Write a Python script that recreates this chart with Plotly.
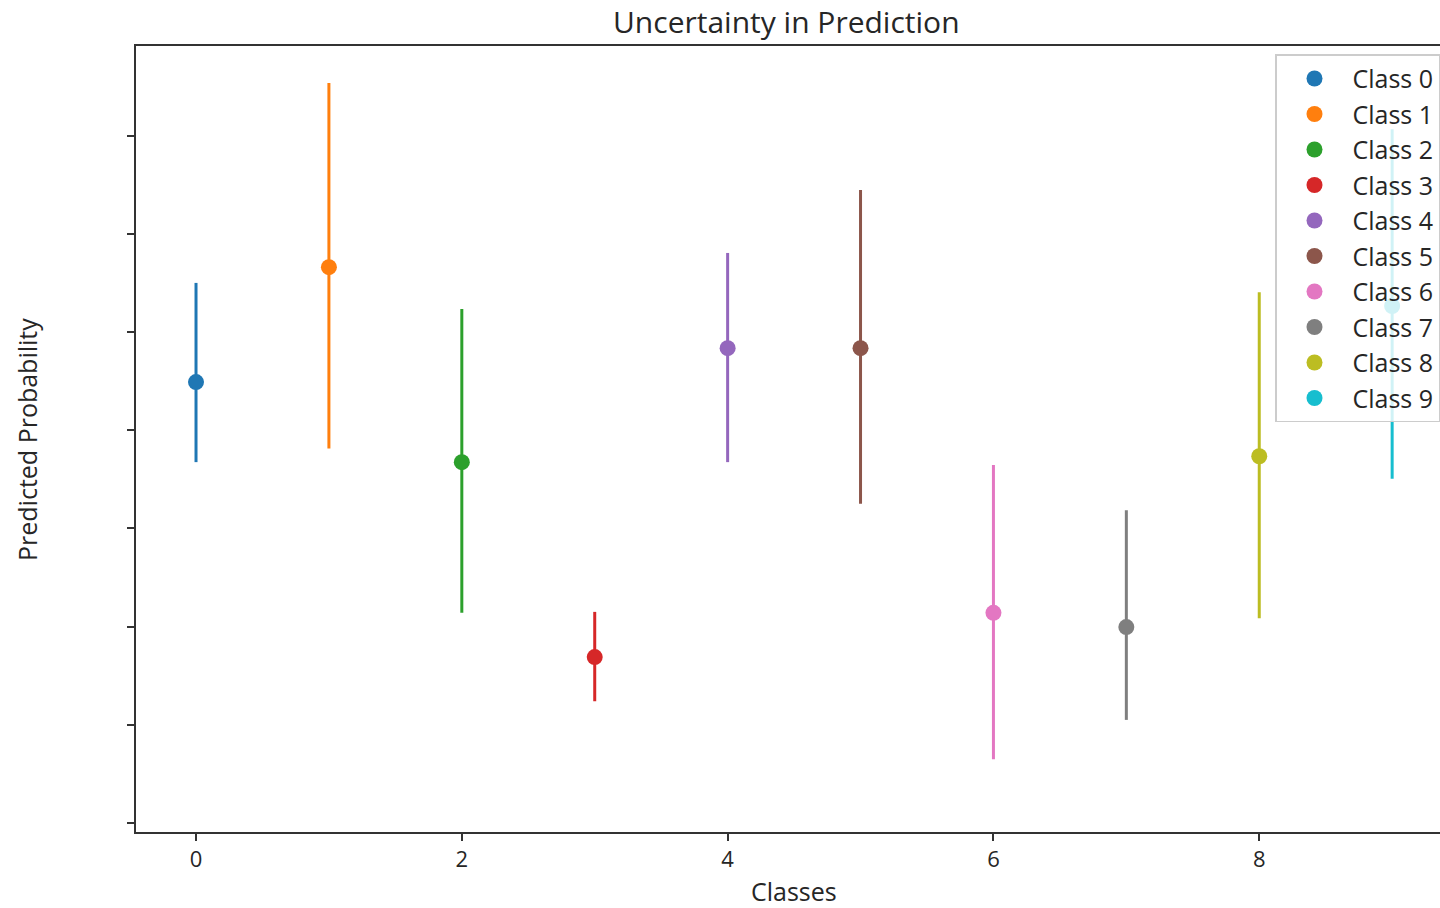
import plotly.graph_objects as go

classes = [0, 1, 2, 3, 4, 5, 6, 7, 8, 9]
labels = ["Class 0", "Class 1", "Class 2", "Class 3", "Class 4",
          "Class 5", "Class 6", "Class 7", "Class 8", "Class 9"]
mean_prob = [0.0898, 0.1132, 0.0735, 0.0338, 0.0967, 0.0967, 0.0428, 0.0399, 0.0747, 0.1053]
err_upper = [0.0202, 0.0375, 0.0312, 0.0092, 0.0194, 0.0322, 0.0301, 0.0238, 0.0334, 0.0360]
err_lower = [0.0163, 0.0369, 0.0307, 0.0090, 0.0232, 0.0317, 0.0298, 0.0189, 0.0330, 0.0352]
colors = ["#1f77b4", "#ff7f0e", "#2ca02c", "#d62728", "#9467bd",
          "#8c564b", "#e377c2", "#7f7f7f", "#bcbd22", "#17becf"]
x_ticks = [0, 2, 4, 6, 8]
y_ticks = [0.0, 0.02, 0.04, 0.06, 0.08, 0.10, 0.12, 0.14]

FONT = "Open Sans"
TXT = "#262626"

fig = go.Figure()
for i in range(len(classes)):
    fig.add_trace(go.Scatter(
        x=[classes[i]], y=[mean_prob[i]], mode="markers", name=labels[i],
        marker=dict(color=colors[i], size=16),
        error_y=dict(type="data", symmetric=False,
                     array=[err_upper[i]], arrayminus=[err_lower[i]],
                     color=colors[i], thickness=3, width=0),
    ))

fig.update_layout(
    width=1440, height=908,
    margin=dict(l=136, r=0, t=46, b=76),
    paper_bgcolor="white", plot_bgcolor="white",
    font=dict(family=FONT, color=TXT, size=22),
    showlegend=True,
    legend=dict(x=1.0, xanchor="right", y=0.9895, yanchor="top",
                bgcolor="rgba(255,255,255,0.8)", bordercolor="#cccccc", borderwidth=1.5,
                font=dict(family=FONT, size=25, color=TXT), itemwidth=66),
    annotations=[
        dict(text="Uncertainty in Prediction", xref="paper", yref="paper",
             x=0.4985, y=1.0315, xanchor="center", yanchor="middle", showarrow=False,
             font=dict(family=FONT, size=30, color=TXT)),
        dict(text="Classes", xref="paper", yref="paper",
             x=0.5046, y=-0.0745, xanchor="center", yanchor="middle", showarrow=False,
             font=dict(family=FONT, size=25, color=TXT)),
        dict(text="Predicted Probability", xref="paper", yref="paper",
             x=-0.0836, y=0.5, xanchor="center", yanchor="middle", showarrow=False,
             textangle=-90, font=dict(family=FONT, size=25, color=TXT)),
    ],
)
fig.update_xaxes(range=[-0.4515, 9.36], tickvals=x_ticks, ticks="outside", ticklen=7,
                 tickwidth=1.5, tickcolor="#333333", showgrid=False, zeroline=False,
                 showline=True, linecolor="#333333", linewidth=2, mirror=True,
                 tickfont=dict(size=22, color=TXT, family=FONT))
fig.update_yaxes(range=[-0.00183, 0.15825], tickvals=y_ticks, ticks="outside", ticklen=7,
                 tickwidth=1.5, tickcolor="#333333", showgrid=False, zeroline=False,
                 showline=True, linecolor="#333333", linewidth=2, mirror=False,
                 showticklabels=False)

fig.write_html("out.html")
